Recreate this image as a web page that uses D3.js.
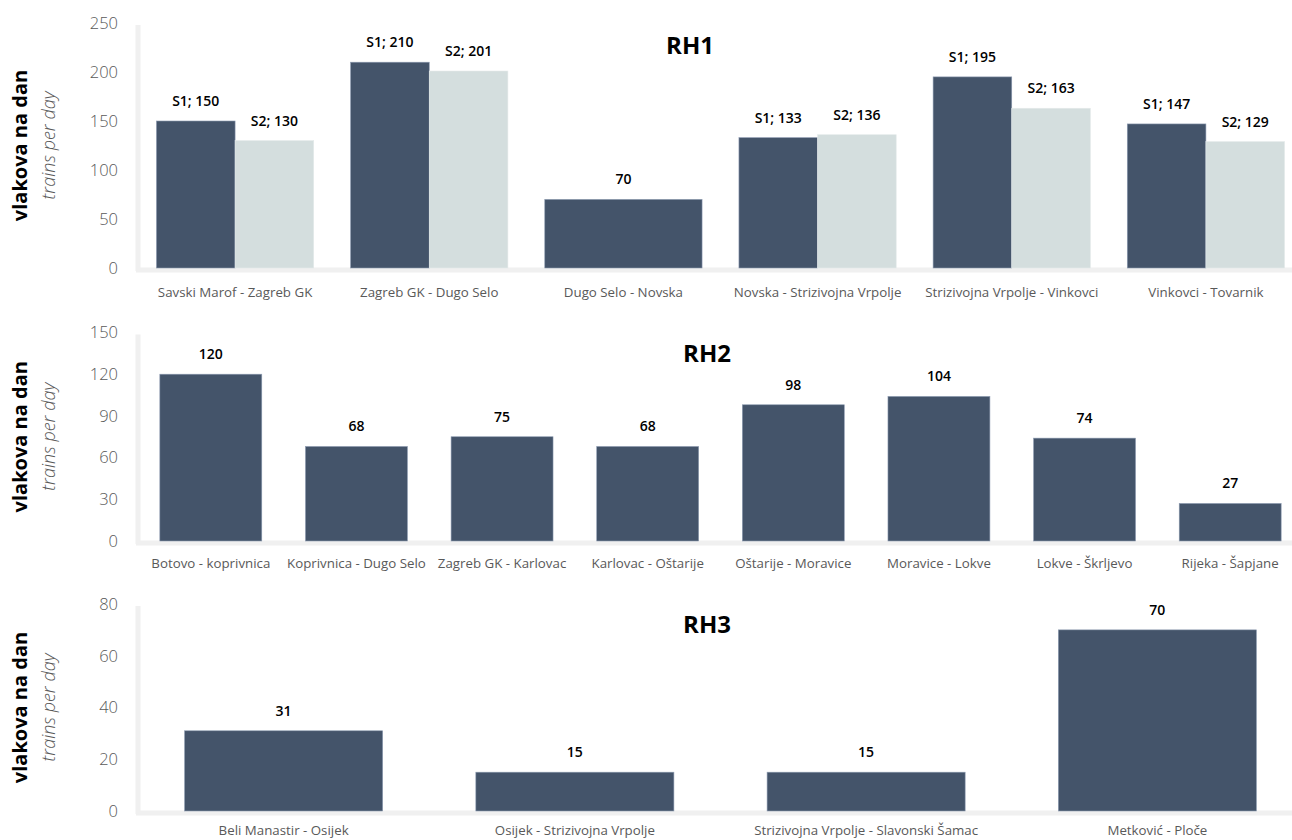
<!DOCTYPE html>
<html>
<head>
<meta charset="UTF-8">
<title>Vlakova na dan</title>
<script src="https://d3js.org/d3.v7.min.js"></script>
<style>
  body { margin: 0; background: #fff; }
  text { font-family: "Open Sans", "Noto Sans", sans-serif; }
</style>
</head>
<body>
<script>
// RH1
var rh1Categories = ["Savski Marof - Zagreb GK", "Zagreb GK - Dugo Selo", "Dugo Selo - Novska",
  "Novska - Strizivojna Vrpolje", "Strizivojna Vrpolje - Vinkovci", "Vinkovci - Tovarnik"];
var rh1S1 = [150, 210, 70, 133, 195, 147];
var rh1S2 = [130, 201, null, 136, 163, 129];
var rh1Ticks = [0, 50, 100, 150, 200, 250];

// RH2
var rh2Categories = ["Botovo - koprivnica", "Koprivnica - Dugo Selo", "Zagreb GK - Karlovac",
  "Karlovac - Oštarije", "Oštarije - Moravice", "Moravice - Lokve", "Lokve - Škrljevo", "Rijeka - Šapjane"];
var rh2Values = [120, 68, 75, 68, 98, 104, 74, 27];
var rh2Ticks = [0, 30, 60, 90, 120, 150];

// RH3
var rh3Categories = ["Beli Manastir - Osijek", "Osijek - Strizivojna Vrpolje",
  "Strizivojna Vrpolje - Slavonski Šamac", "Metković - Ploče"];
var rh3Values = [31, 15, 15, 70];
var rh3Ticks = [0, 20, 40, 60, 80];

var W = 1292, H = 840;
var dark = "#44546a", light = "#d4dede";

var svg = d3.select("body").append("svg")
    .attr("width", W).attr("height", H);

function drawPanel(p) {
  var g = svg.append("g");
  var x = d3.scaleBand()
      .domain(d3.range(p.categories.length))
      .range([138, 1303])
      .paddingInner(p.padding).paddingOuter(p.padding / 2);
  var y = d3.scaleLinear()
      .domain([0, d3.max(p.ticks)])
      .range([p.base, p.top]);

  // light axis lines
  g.append("line").attr("x1", 138).attr("x2", 138)
      .attr("y1", p.top + 2).attr("y2", p.base + 3)
      .attr("stroke", "#f0f0f0").attr("stroke-width", 5);
  g.append("line").attr("x1", 136).attr("x2", W)
      .attr("y1", p.base + 2).attr("y2", p.base + 2)
      .attr("stroke", "#f0f0f0").attr("stroke-width", 5);

  // y axis
  var axis = d3.axisLeft(y).tickValues(p.ticks).tickSize(0).tickPadding(0);
  var ag = g.append("g").attr("transform", "translate(118,0)").call(axis);
  ag.select(".domain").remove();
  ag.selectAll("text")
      .attr("font-size", 16.5).attr("font-weight", 300)
      .attr("fill", "#595959")
      .style("font-family", '"Open Sans", "Noto Sans", sans-serif');

  // bars
  p.categories.forEach(function (c, i) {
    var s1 = p.s1[i], s2 = p.s2 ? p.s2[i] : null;
    var bw = x.bandwidth();
    var series = [];
    if (s2 == null) {
      series.push({ v: s1, x: x(i), w: bw, fill: dark, label: "" + s1 });
    } else {
      series.push({ v: s1, x: x(i), w: bw / 2, fill: dark, label: "S1; " + s1 });
      series.push({ v: s2, x: x(i) + bw / 2, w: bw / 2, fill: light, label: "S2; " + s2 });
    }
    series.forEach(function (s) {
      g.append("rect")
          .attr("x", s.x).attr("y", y(s.v))
          .attr("width", s.w).attr("height", p.base - y(s.v))
          .attr("fill", s.fill)
          .attr("stroke", s.fill == dark ? "#8c9ab0" : "#e4eaea").attr("stroke-width", 0.6);
      g.append("text")
          .attr("x", s.x + s.w / 2).attr("y", y(s.v) - 15)
          .attr("text-anchor", "middle")
          .attr("font-size", 14).attr("font-weight", 600)
          .attr("fill", "#000")
          .text(s.label);
    });
    g.append("text")
        .attr("x", x(i) + bw / 2).attr("y", p.base + p.catDy)
        .attr("text-anchor", "middle")
        .attr("font-size", 13.3)
        .attr("fill", "#595959")
        .text(c);
  });

  // title
  g.append("text")
      .attr("x", p.titleX).attr("y", p.titleY)
      .attr("text-anchor", "middle")
      .attr("font-size", 24).attr("font-weight", 700)
      .attr("fill", "#000")
      .text(p.title);

  // y labels
  var mid = (p.base + p.top) / 2;
  g.append("text")
      .attr("transform", "translate(27," + mid + ") rotate(-90)")
      .attr("text-anchor", "middle")
      .attr("font-size", 20).attr("font-weight", 700)
      .attr("fill", "#000")
      .text("vlakova na dan");
  g.append("text")
      .attr("transform", "translate(55," + mid + ") rotate(-90)")
      .attr("text-anchor", "middle")
      .attr("font-size", 18).attr("font-weight", 300).attr("font-style", "italic")
      .attr("fill", "#595959")
      .text("trains per day");
}

drawPanel({ title: "RH1", categories: rh1Categories, s1: rh1S1, s2: rh1S2, ticks: rh1Ticks,
  base: 268, top: 23, padding: 0.19, titleX: 690, titleY: 54, catDy: 29 });
drawPanel({ title: "RH2", categories: rh2Categories, s1: rh2Values, s2: null, ticks: rh2Ticks,
  base: 541, top: 332.5, padding: 0.3, titleX: 707, titleY: 362, catDy: 27 });
drawPanel({ title: "RH3", categories: rh3Categories, s1: rh3Values, s2: null, ticks: rh3Ticks,
  base: 811, top: 604, padding: 0.32, titleX: 707, titleY: 633, catDy: 24 });
</script>
</body>
</html>
